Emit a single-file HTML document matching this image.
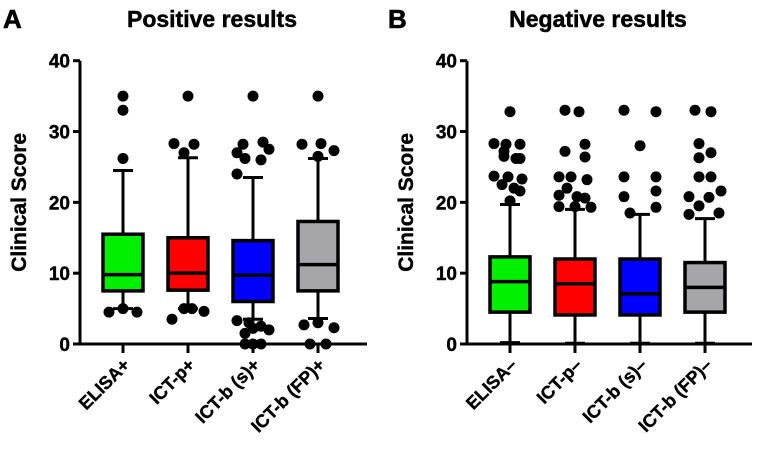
<!DOCTYPE html>
<html><head><meta charset="utf-8"><style>
html,body{margin:0;padding:0;background:#fff;}
svg{display:block;font-family:"Liberation Sans",Arial,sans-serif;font-weight:bold;}
</style></head><body>
<svg id="c" width="760" height="470" viewBox="0 0 760 470"></svg>
<script>
const catsA = ["ELISA+","ICT-p+","ICT-b (s)+","ICT-b (FP)+"];
const catsB = ["ELISA\u2013","ICT-p\u2013","ICT-b (s)\u2013","ICT-b (FP)\u2013"];
const colors = ["#00f000","#ff0000","#0000ff","#a6a6aa"];
// [whiskerLow, q1, median, q3, whiskerHigh]
const boxesA = [[5,7.5,9.8,15.5,24.5],[5,7.6,10,15,26.3],[3.5,6,9.7,14.6,23.5],[3.6,7.5,11.2,17.3,26.2]];
const boxesB = [[0.2,4.5,8.8,12.3,19.7],[0.1,4.1,8.5,12,19],[0.1,4.1,7.1,12,18.3],[0.1,4.5,8,11.5,17.7]];
// outlier values
const outA = [
 [35,33,26.2,4.5,5,4.5],
 [35,28.3,28.2,27,3.5,5,5,4.6],
 [35,28.2,28.5,27.5,27,26.2,26,24,3.3,3,2.5,2,2.2,1.5,0,0,0],
 [35,28.2,28.3,27.3,26.5,2.7,3,2.3,0,0]
];
const outB = [
 [32.8,28.3,28.2,28.2,27.2,26.5,26.2,26.2,23.7,23.6,23.3,22.5,22,21.6,20.2],
 [33,32.8,28.2,27.2,26.4,23.6,23.6,23.2,22,21,20.8,20.6,19.4,19.4,19.3],
 [33,32.8,28,23.6,23.6,20.8,21.6,18.5,19.3],
 [33,32.8,28.3,27,26.3,23.6,23.6,20.8,21.6,20.7,19.5,18.3,18.5]
];
// horizontal jitter (px) of outliers, layout only
const jitA = [[0,0,0,-14,0,14],[0,-14,6,-4,-16,-4,4,16],[0,-10,10,16,-16,-8,8,-16,-16,-4,8,16,0,-8,-8,0,8],[0,-16,3,16,0,-14,0,16,-8,8]];
const jitB = [[0,-16,-4,10,-6,-6,6,10,-16,-2,12,-8,4,10,0],[-10,4,10,-10,10,-16,-4,12,-8,-16,2,10,-16,0,16],[-16,16,0,-16,16,-16,16,-10,16],[-10,6,-6,6,-6,-6,6,-16,16,4,-6,-16,14]];
const ticks = [0,10,20,30,40];

const svg = document.getElementById('c');
const NS = 'http://www.w3.org/2000/svg';
function mk(tag, attrs, parent){const e=document.createElementNS(NS,tag);for(const k in attrs)e.setAttribute(k,attrs[k]);(parent||svg).appendChild(e);return e;}
const y = v => 344 - v*(344-60.7)/40;

function panel(p){
  const g = mk('g',{});
  
  
  const t = mk('text',{x:p.lx,y:28,'font-size':26,fill:'#000','stroke':'#000','stroke-width':0.6},g); t.textContent=p.letter;
  
  
  const ti = mk('text',{x:p.tx,y:27,'font-size':23,'text-anchor':'middle',fill:'#000','stroke':'#000','stroke-width':0.5},g); ti.textContent=p.title;
  
  
  const yt = mk('text',{x:0,y:0,'font-size':21,'text-anchor':'middle','stroke':'#000','stroke-width':0.4,transform:`translate(${p.ax-54},${y(20)}) rotate(-90)`},g); yt.textContent='Clinical Score';
  
  
  const ax = mk('path',{d:`M${p.ax},${y(40)}V${y(0)}H${p.end}`,stroke:'#000','stroke-width':3,fill:'none'},g);
  
  
  ticks.forEach(v=>{
    mk('line',{x1:p.ax-7,x2:p.ax,y1:y(v),y2:y(v),stroke:'#000','stroke-width':3},g);
    const tl = mk('text',{x:p.ax-10,y:y(v)+7,'font-size':19,'text-anchor':'end','stroke':'#000','stroke-width':0.4},g); tl.textContent=v;
    
    
  });
  p.cats.forEach((c,i)=>{
    const cx = p.ax + 43 + i*65;
    mk('line',{x1:cx,x2:cx,y1:y(0),y2:y(0)+9,stroke:'#000','stroke-width':3},g);
    const xl = mk('text',{x:0,y:0,'font-size':18,'text-anchor':'end','stroke':'#000','stroke-width':0.4,transform:`translate(${cx+8},${y(0)+22}) rotate(-45)`},g); xl.textContent=c;
    
    
    const b = p.boxes[i];
    const bg = mk('g',{},g);
    
    
    mk('line',{x1:cx,x2:cx,y1:y(b[0]),y2:y(b[4]),stroke:'#000','stroke-width':3},bg);
    mk('line',{x1:cx-10,x2:cx+10,y1:y(b[0]),y2:y(b[0]),stroke:'#000','stroke-width':3},bg);
    mk('line',{x1:cx-10,x2:cx+10,y1:y(b[4]),y2:y(b[4]),stroke:'#000','stroke-width':3},bg);
    mk('rect',{x:cx-20,y:y(b[3]),width:40,height:y(b[1])-y(b[3]),fill:colors[i],stroke:'#000','stroke-width':3.5},bg);
    mk('line',{x1:cx-20,x2:cx+20,y1:y(b[2]),y2:y(b[2]),stroke:'#000','stroke-width':3.5},bg);
    p.out[i].forEach((v,j)=>{
      const d = mk('circle',{cx:cx+(p.jit[i][j]||0),cy:y(v),r:5.5,fill:'#000'},bg);
      
      
    });
  });
}
panel({name:'panel-a-positive',letter:'A',lx:3,title:'Positive results',tx:212,ax:80,end:367,cats:catsA,boxes:boxesA,out:outA,jit:jitA});
panel({name:'panel-b-negative',letter:'B',lx:388,title:'Negative results',tx:598,ax:467,end:752,cats:catsB,boxes:boxesB,out:outB,jit:jitB});
</script>
</body></html>
